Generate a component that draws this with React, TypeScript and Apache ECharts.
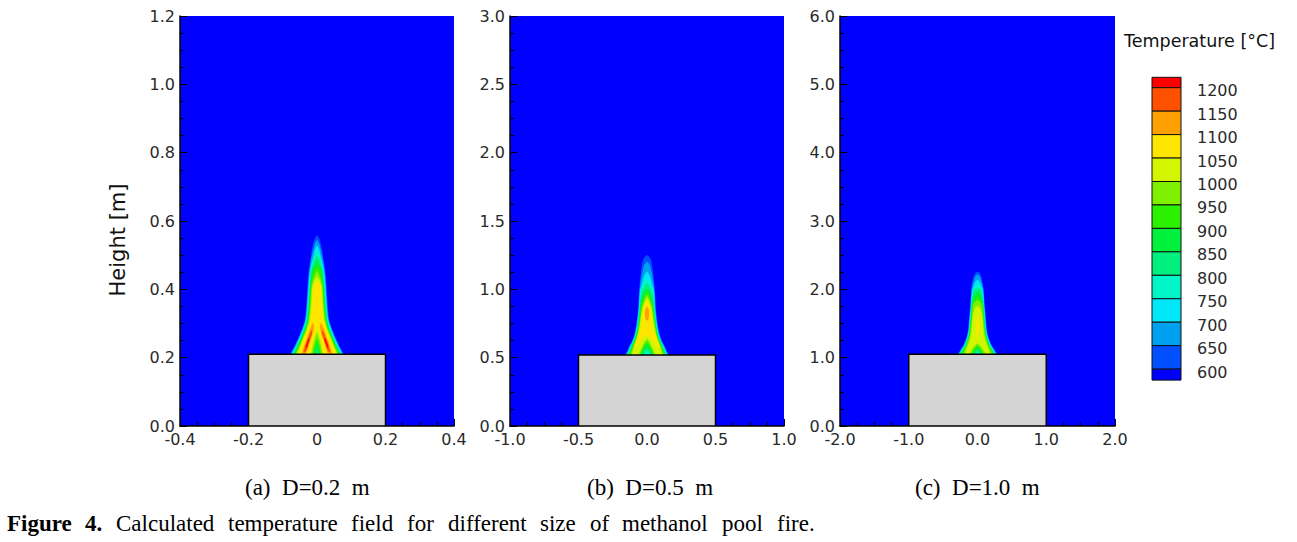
import React, { useEffect, useRef } from 'react';
import * as echarts from 'echarts';

// ---------- colour scale ----------
const levels = [1200, 1150, 1100, 1050, 1000, 950, 900, 850, 800, 750, 700, 650, 600];
const barColors = ['#ff0000', '#ff5000', '#ffa000', '#ffe600', '#d4f500', '#7ff000', '#2cf000', '#00f03c', '#00f080', '#00f5c8', '#00e8f8', '#00a0f0', '#0050ff', '#0000ff'];
const bandLow = [1200, 1150, 1100, 1050, 1000, 950, 900, 850, 800, 750, 700, 650, 600];
const bandColor = (lv: number) => barColors[bandLow.indexOf(lv)];

// ---------- axes ----------
const xLabelsA = ['-0.4', '-0.2', '0', '0.2', '0.4'];
const yLabelsA = ['0.0', '0.2', '0.4', '0.6', '0.8', '1.0', '1.2'];
const xLabelsB = ['-1.0', '-0.5', '0.0', '0.5', '1.0'];
const yLabelsB = ['0.0', '0.5', '1.0', '1.5', '2.0', '2.5', '3.0'];
const xLabelsC = ['-2.0', '-1.0', '0.0', '1.0', '2.0'];
const yLabelsC = ['0.0', '1.0', '2.0', '3.0', '4.0', '5.0', '6.0'];

// pool (grey block): [xmin, xmax, height]
const poolA = [-0.2, 0.2, 0.21];
const poolB = [-0.5, 0.5, 0.52];
const poolC = [-1.0, 1.0, 1.05];

// ---------- flame contours: right half [x, height], mirrored about x = 0 ----------
const flameA600 = [[0,0.559],[0.008,0.545],[0.013,0.525],[0.017,0.5],[0.024,0.457],[0.028,0.408],[0.031,0.359],[0.036,0.31],[0.044,0.285],[0.054,0.26],[0.067,0.232],[0.076,0.208],[0,0.208]];
const flameA650 = [[0,0.545],[0.007,0.532],[0.011,0.515],[0.015,0.5],[0.022,0.457],[0.026,0.408],[0.029,0.359],[0.034,0.31],[0.042,0.285],[0.052,0.26],[0.065,0.232],[0.074,0.208],[0,0.208]];
const flameA700 = [[0,0.53],[0.006,0.518],[0.010,0.5],[0.020,0.457],[0.025,0.408],[0.028,0.359],[0.033,0.31],[0.041,0.285],[0.051,0.26],[0.063,0.232],[0.072,0.208],[0,0.208]];
const flameA750 = [[0,0.515],[0.007,0.5],[0.018,0.457],[0.023,0.408],[0.026,0.359],[0.031,0.31],[0.039,0.285],[0.049,0.26],[0.061,0.232],[0.070,0.208],[0,0.208]];
const flameA800 = [[0,0.5],[0.007,0.488],[0.011,0.475],[0.016,0.457],[0.021,0.408],[0.025,0.359],[0.030,0.31],[0.037,0.285],[0.047,0.26],[0.059,0.232],[0.068,0.208],[0.004,0.208],[0,0.215]];
const flameA850 = [[0,0.485],[0.007,0.472],[0.014,0.457],[0.020,0.408],[0.023,0.359],[0.028,0.31],[0.035,0.285],[0.045,0.26],[0.057,0.232],[0.066,0.208],[0.008,0.208],[0,0.23]];
const flameA900 = [[0,0.47],[0.007,0.46],[0.011,0.45],[0.018,0.408],[0.021,0.359],[0.026,0.31],[0.033,0.285],[0.043,0.26],[0.055,0.232],[0.063,0.208],[0.012,0.208],[0.005,0.23],[0,0.245]];
const flameA950 = [[0,0.455],[0.007,0.443],[0.011,0.43],[0.016,0.408],[0.019,0.359],[0.024,0.31],[0.031,0.285],[0.041,0.26],[0.052,0.232],[0.060,0.208],[0.016,0.208],[0.008,0.235],[0,0.26]];
const flameA1000 = [[0,0.44],[0.006,0.43],[0.010,0.42],[0.014,0.408],[0.017,0.359],[0.022,0.31],[0.029,0.285],[0.039,0.26],[0.050,0.232],[0.057,0.208],[0.020,0.208],[0.011,0.24],[0.004,0.265],[0,0.275]];
const flameA1050 = [[0,0.425],[0.006,0.418],[0.011,0.408],[0.014,0.359],[0.019,0.31],[0.026,0.285],[0.036,0.26],[0.047,0.232],[0.053,0.208],[0.024,0.208],[0.014,0.24],[0.006,0.272],[0,0.29]];
const legA1100 = [[0.012,0.302],[0.018,0.29],[0.025,0.27],[0.032,0.25],[0.039,0.23],[0.044,0.214],[0.042,0.21],[0.032,0.212],[0.026,0.228],[0.019,0.25],[0.013,0.27],[0.009,0.287]];
const legA1150 = [[0.017,0.28],[0.023,0.265],[0.029,0.248],[0.035,0.232],[0.039,0.218],[0.036,0.215],[0.030,0.225],[0.024,0.243],[0.018,0.26],[0.014,0.272]];
const legA1200 = [[0.024,0.258],[0.029,0.245],[0.033,0.232],[0.030,0.228],[0.026,0.24],[0.022,0.252]];

const flameB600 = [[0,1.251],[0.018,1.235],[0.030,1.21],[0.038,1.17],[0.045,1.117],[0.052,1.05],[0.057,0.995],[0.061,0.93],[0.064,0.873],[0.070,0.81],[0.077,0.751],[0.086,0.70],[0.097,0.654],[0.113,0.615],[0.131,0.581],[0.146,0.545],[0.156,0.52],[0,0.52]];
const flameB650 = [[0,1.203],[0.016,1.185],[0.027,1.155],[0.035,1.12],[0.041,1.09],[0.049,1.04],[0.054,0.995],[0.058,0.93],[0.061,0.873],[0.067,0.81],[0.074,0.751],[0.083,0.70],[0.094,0.654],[0.110,0.615],[0.127,0.581],[0.142,0.545],[0.152,0.52],[0,0.52]];
const flameB700 = [[0,1.129],[0.014,1.113],[0.024,1.09],[0.032,1.06],[0.042,1.02],[0.050,0.995],[0.055,0.93],[0.058,0.873],[0.064,0.81],[0.071,0.751],[0.080,0.70],[0.091,0.654],[0.106,0.615],[0.123,0.581],[0.138,0.545],[0.148,0.52],[0,0.52]];
const flameB750 = [[0,1.08],[0.013,1.066],[0.023,1.045],[0.033,1.02],[0.046,0.995],[0.052,0.93],[0.055,0.873],[0.061,0.81],[0.068,0.751],[0.077,0.70],[0.088,0.654],[0.103,0.615],[0.119,0.581],[0.134,0.545],[0.144,0.52],[0.010,0.52],[0,0.525]];
const flameB800 = [[0,1.044],[0.013,1.03],[0.024,1.01],[0.036,0.99],[0.042,0.96],[0.049,0.93],[0.052,0.873],[0.058,0.81],[0.065,0.751],[0.074,0.70],[0.085,0.654],[0.100,0.615],[0.115,0.581],[0.130,0.545],[0.140,0.52],[0.030,0.52],[0.012,0.54],[0,0.55]];
const flameB850 = [[0,1.008],[0.012,0.995],[0.022,0.975],[0.030,0.95],[0.040,0.92],[0.049,0.873],[0.055,0.81],[0.062,0.751],[0.071,0.70],[0.082,0.654],[0.096,0.615],[0.111,0.581],[0.125,0.545],[0.135,0.52],[0.040,0.52],[0.020,0.55],[0,0.575]];
const flameB900 = [[0,0.985],[0.011,0.972],[0.020,0.952],[0.030,0.925],[0.040,0.895],[0.045,0.873],[0.052,0.81],[0.058,0.751],[0.067,0.70],[0.078,0.654],[0.092,0.615],[0.106,0.581],[0.120,0.545],[0.128,0.52],[0.050,0.52],[0.028,0.56],[0.010,0.59],[0,0.6]];
const flameB950 = [[0,0.96],[0.010,0.948],[0.018,0.93],[0.028,0.9],[0.036,0.873],[0.046,0.81],[0.054,0.751],[0.063,0.70],[0.074,0.654],[0.088,0.615],[0.100,0.581],[0.113,0.545],[0.120,0.52],[0.056,0.52],[0.036,0.56],[0.016,0.6],[0,0.62]];
const flameB1000 = [[0,0.94],[0.009,0.928],[0.016,0.91],[0.024,0.89],[0.030,0.873],[0.042,0.81],[0.050,0.751],[0.059,0.70],[0.069,0.654],[0.082,0.615],[0.094,0.581],[0.104,0.545],[0.110,0.52],[0.066,0.52],[0.044,0.565],[0.022,0.61],[0.006,0.635],[0,0.64]];
const flameB1050 = [[0,0.92],[0.008,0.91],[0.015,0.895],[0.022,0.873],[0.032,0.81],[0.040,0.751],[0.050,0.70],[0.065,0.654],[0.080,0.615],[0.092,0.585],[0.097,0.57],[0.084,0.572],[0.062,0.6],[0.036,0.635],[0.012,0.655],[0,0.66]];
const flameB1100 = [[0,0.875],[0.010,0.86],[0.015,0.83],[0.014,0.80],[0.009,0.78],[0,0.77]];

const flameC600 = [[0,2.258],[0.03,2.24],[0.056,2.185],[0.075,2.1],[0.090,2.0],[0.098,1.9],[0.104,1.795],[0.112,1.7],[0.121,1.6],[0.129,1.5],[0.138,1.404],[0.152,1.33],[0.175,1.258],[0.203,1.19],[0.235,1.136],[0.262,1.09],[0.284,1.054],[0,1.054]];
const flameC650 = [[0,2.22],[0.025,2.2],[0.045,2.16],[0.068,2.08],[0.084,2.0],[0.093,1.9],[0.099,1.795],[0.107,1.7],[0.116,1.6],[0.124,1.5],[0.133,1.404],[0.147,1.33],[0.169,1.258],[0.197,1.19],[0.228,1.136],[0.255,1.09],[0.276,1.054],[0,1.054]];
const flameC700 = [[0,2.14],[0.025,2.12],[0.045,2.08],[0.062,2.03],[0.074,2.0],[0.087,1.9],[0.093,1.795],[0.101,1.7],[0.110,1.6],[0.118,1.5],[0.127,1.404],[0.141,1.33],[0.162,1.258],[0.190,1.19],[0.220,1.136],[0.247,1.09],[0.268,1.054],[0,1.054]];
const flameC750 = [[0,2.07],[0.022,2.055],[0.040,2.03],[0.065,2.0],[0.080,1.9],[0.088,1.795],[0.096,1.7],[0.105,1.6],[0.113,1.5],[0.122,1.404],[0.135,1.33],[0.156,1.258],[0.183,1.19],[0.213,1.136],[0.240,1.09],[0.260,1.054],[0.020,1.054],[0,1.065]];
const flameC800 = [[0,2.02],[0.020,2.01],[0.045,2.0],[0.070,1.9],[0.083,1.795],[0.092,1.7],[0.100,1.6],[0.108,1.5],[0.117,1.404],[0.129,1.33],[0.150,1.258],[0.176,1.19],[0.205,1.136],[0.231,1.09],[0.250,1.054],[0.040,1.054],[0.015,1.08],[0,1.09]];
const flameC850 = [[0,1.97],[0.020,1.955],[0.040,1.93],[0.060,1.9],[0.077,1.795],[0.087,1.7],[0.095,1.6],[0.103,1.5],[0.112,1.404],[0.123,1.33],[0.144,1.258],[0.169,1.19],[0.197,1.136],[0.221,1.09],[0.240,1.054],[0.060,1.054],[0.030,1.095],[0,1.12]];
const flameC900 = [[0,1.9],[0.020,1.885],[0.038,1.86],[0.055,1.83],[0.070,1.795],[0.081,1.7],[0.089,1.6],[0.097,1.5],[0.106,1.404],[0.116,1.33],[0.137,1.258],[0.161,1.19],[0.188,1.136],[0.210,1.09],[0.228,1.054],[0.080,1.054],[0.045,1.105],[0.015,1.14],[0,1.15]];
const flameC950 = [[0,1.84],[0.018,1.83],[0.035,1.815],[0.055,1.795],[0.072,1.7],[0.082,1.6],[0.090,1.5],[0.099,1.404],[0.109,1.33],[0.128,1.258],[0.151,1.19],[0.176,1.136],[0.195,1.09],[0.210,1.054],[0.100,1.054],[0.062,1.11],[0.025,1.165],[0,1.18]];
const flameC1000 = [[0,1.76],[0.020,1.745],[0.038,1.72],[0.052,1.69],[0.070,1.6],[0.080,1.5],[0.088,1.404],[0.096,1.33],[0.112,1.258],[0.134,1.19],[0.155,1.136],[0.167,1.09],[0.172,1.06],[0.125,1.06],[0.085,1.12],[0.045,1.175],[0.012,1.205],[0,1.21]];
const flameC1050 = [[0,1.62],[0.012,1.59],[0.018,1.53],[0.020,1.45],[0.018,1.38],[0.010,1.32],[0,1.3]];

type Layer = { level: number; kind: 'half' | 'leg'; pts: number[][] };
const layersA: Layer[] = [
  { level: 600, kind: 'half', pts: flameA600 }, { level: 650, kind: 'half', pts: flameA650 },
  { level: 700, kind: 'half', pts: flameA700 }, { level: 750, kind: 'half', pts: flameA750 },
  { level: 800, kind: 'half', pts: flameA800 }, { level: 850, kind: 'half', pts: flameA850 },
  { level: 900, kind: 'half', pts: flameA900 }, { level: 950, kind: 'half', pts: flameA950 },
  { level: 1000, kind: 'half', pts: flameA1000 }, { level: 1050, kind: 'half', pts: flameA1050 },
  { level: 1100, kind: 'leg', pts: legA1100 }, { level: 1150, kind: 'leg', pts: legA1150 },
  { level: 1200, kind: 'leg', pts: legA1200 },
];
const layersB: Layer[] = [
  { level: 600, kind: 'half', pts: flameB600 }, { level: 650, kind: 'half', pts: flameB650 },
  { level: 700, kind: 'half', pts: flameB700 }, { level: 750, kind: 'half', pts: flameB750 },
  { level: 800, kind: 'half', pts: flameB800 }, { level: 850, kind: 'half', pts: flameB850 },
  { level: 900, kind: 'half', pts: flameB900 }, { level: 950, kind: 'half', pts: flameB950 },
  { level: 1000, kind: 'half', pts: flameB1000 }, { level: 1050, kind: 'half', pts: flameB1050 },
  { level: 1100, kind: 'half', pts: flameB1100 },
];
const layersC: Layer[] = [
  { level: 600, kind: 'half', pts: flameC600 }, { level: 650, kind: 'half', pts: flameC650 },
  { level: 700, kind: 'half', pts: flameC700 }, { level: 750, kind: 'half', pts: flameC750 },
  { level: 800, kind: 'half', pts: flameC800 }, { level: 850, kind: 'half', pts: flameC850 },
  { level: 900, kind: 'half', pts: flameC900 }, { level: 950, kind: 'half', pts: flameC950 },
  { level: 1000, kind: 'half', pts: flameC1000 }, { level: 1050, kind: 'half', pts: flameC1050 },
];

const captions = ['(a)  D=0.2  m', '(b)  D=0.5  m', '(c)  D=1.0  m'];

const panels = [
  { left: 180, width: 274, xMin: -0.4, xMax: 0.4, xInt: 0.2, yMax: 1.2, yInt: 0.2, xLabels: xLabelsA, yLabels: yLabelsA, pool: poolA, layers: layersA, capX: 245 },
  { left: 510, width: 274, xMin: -1.0, xMax: 1.0, xInt: 0.5, yMax: 3.0, yInt: 0.5, xLabels: xLabelsB, yLabels: yLabelsB, pool: poolB, layers: layersB, capX: 587 },
  { left: 840, width: 275, xMin: -2.0, xMax: 2.0, xInt: 1.0, yMax: 6.0, yInt: 1.0, xLabels: xLabelsC, yLabels: yLabelsC, pool: poolC, layers: layersC, capX: 915 },
];

const captionWords: [string, number, boolean][] = [
  ['Figure', 7, true], ['4.', 85, true], ['Calculated', 116, false], ['temperature', 228, false],
  ['field', 351, false], ['for', 407, false], ['different', 448, false], ['size', 540, false],
  ['of', 590, false], ['methanol', 622, false], ['pool', 722, false], ['fire.', 777, false],
];

const SANS = '"DejaVu Sans", sans-serif';
const SERIF = '"Liberation Serif", "Times New Roman", serif';
const TXT = '#2a2a2a';

function toPolys(layers: Layer[]) {
  const out: { color: string; pts: number[][] }[] = [];
  layers.forEach((l) => {
    const color = bandColor(l.level);
    if (l.kind === 'half') {
      const mirror = l.pts.slice().reverse().map(([x, y]) => [-x, y]);
      out.push({ color, pts: l.pts.concat(mirror) });
    } else {
      out.push({ color, pts: l.pts });
      out.push({ color, pts: l.pts.map(([x, y]) => [-x, y]) });
    }
  });
  return out;
}

export default function App() {
  const ref = useRef<HTMLDivElement>(null);
  useEffect(() => {
    if (!ref.current) return;
    const chart = echarts.init(ref.current, undefined, { renderer: 'svg' });
    const grid: any[] = [];
    const xAxis: any[] = [];
    const yAxis: any[] = [];
    const series: any[] = [];
    panels.forEach((p, i) => {
      grid.push({ left: p.left, top: 16, width: p.width, height: 410, show: true, backgroundColor: '#0000ff', borderWidth: 0 });
      const axisCommon = {
        type: 'value',
        gridIndex: i,
        splitLine: { show: false },
        axisLine: { show: true, onZero: false, lineStyle: { color: '#000', width: 1.5 } },
        axisTick: { show: true, inside: true, length: 7, lineStyle: { color: '#000', width: 1 } },
        minorTick: { show: true, splitNumber: 4, length: 4, lineStyle: { color: '#000', width: 1 } },
      };
      xAxis.push({
        ...axisCommon, min: p.xMin, max: p.xMax, interval: p.xInt,
        axisLabel: { color: TXT, fontFamily: SANS, fontSize: 16, margin: 5,
          formatter: (v: number) => p.xLabels[Math.round((v - p.xMin) / p.xInt)] ?? '' },
      });
      yAxis.push({
        ...axisCommon, min: 0, max: p.yMax, interval: p.yInt,
        axisLabel: { color: TXT, fontFamily: SANS, fontSize: 16, margin: 5,
          formatter: (v: number) => p.yLabels[Math.round(v / p.yInt)] ?? '' },
      });
      const polys = toPolys(p.layers);
      series.push({
        type: 'custom', xAxisIndex: i, yAxisIndex: i, clip: true, silent: true,
        data: polys.map((_, k) => [k]),
        encode: { x: -1, y: -1 },
        renderItem: (params: any, api: any) => {
          const poly = polys[params.dataIndex];
          return {
            type: 'polygon',
            shape: { points: poly.pts.map((pt) => api.coord(pt)), smooth: 0.3 },
            style: { fill: poly.color, stroke: null },
          };
        },
      });
      series.push({
        type: 'custom', xAxisIndex: i, yAxisIndex: i, clip: true, silent: true,
        data: [p.pool],
        encode: { x: -1, y: -1 },
        renderItem: (params: any, api: any) => {
          const d = p.pool;
          const a = api.coord([d[0], d[2]]);
          const b = api.coord([d[1], 0]);
          return {
            type: 'rect',
            shape: { x: a[0], y: a[1], width: b[0] - a[0], height: b[1] - a[1] },
            style: { fill: '#d4d4d4', stroke: '#000', lineWidth: 1.5 },
          };
        },
      });
    });

    const graphic: any[] = [];
    graphic.push({ type: 'text', x: 118, y: 240, rotation: Math.PI / 2,
      style: { text: 'Height [m]', font: `21px ${SANS}`, fill: '#111', align: 'center', verticalAlign: 'middle' } });
    panels.forEach((p, i) => {
      graphic.push({ type: 'text', x: p.capX, y: 487,
        style: { text: captions[i], font: `23px ${SERIF}`, fill: '#000', align: 'left', verticalAlign: 'middle' } });
    });
    captionWords.forEach(([w, x, b]) => {
      graphic.push({ type: 'text', x, y: 523,
        style: { text: w, font: `${b ? 'bold ' : ''}23px ${SERIF}`, fill: '#000', align: 'left', verticalAlign: 'middle' } });
    });
    const cbX = 1152, cbW = 29, firstTop = 77.3, firstBound = 87.7, step = 23.45;
    graphic.push({ type: 'text', x: 1124, y: 41,
      style: { text: 'Temperature [°C]', font: `17.5px ${SANS}`, fill: '#111', align: 'left', verticalAlign: 'middle' } });
    barColors.forEach((c, k) => {
      let top: number, h: number;
      if (k === 0) { top = firstTop; h = firstBound - firstTop; }
      else if (k === barColors.length - 1) { top = firstBound + (k - 1) * step; h = 11; }
      else { top = firstBound + (k - 1) * step; h = step; }
      graphic.push({ type: 'rect', shape: { x: cbX, y: top, width: cbW, height: h },
        style: { fill: c, stroke: '#111', lineWidth: 1 } });
    });
    levels.forEach((lv, k) => {
      graphic.push({ type: 'text', x: 1197, y: firstBound + k * step + 3,
        style: { text: String(lv), font: `16px ${SANS}`, fill: TXT, align: 'left', verticalAlign: 'middle' } });
    });

    chart.setOption({
      animation: false,
      backgroundColor: '#ffffff',
      grid, xAxis, yAxis, series, graphic,
    });
    return () => chart.dispose();
  }, []);
  return <div ref={ref} style={{ position: 'fixed', left: 0, top: 0, width: 1297, height: 542, background: '#fff' }} />;
}
